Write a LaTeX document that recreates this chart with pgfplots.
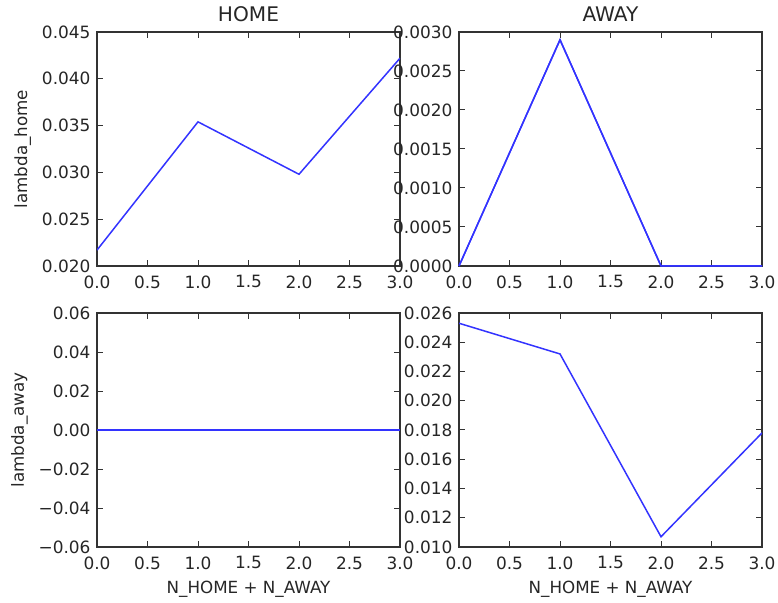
\documentclass[border=0pt]{standalone}
\usepackage{fontspec}
\setmainfont{DejaVu Sans}
\usepackage{pgfplots}
\pgfplotsset{compat=1.18}

% Shared look of the four panels (1 unit = 1bp, tick font 17bp)
\pgfplotsset{
  panel/.style={
    scale only axis, width=303bp, height=234bp,
    anchor=south west,
    xmin=0, xmax=3,
    xtick={0,0.5,1,1.5,2,2.5,3},
    xticklabels={0.0,0.5,1.0,1.5,2.0,2.5,3.0},
    scaled y ticks=false, scaled x ticks=false,
    tick align=inside, tick pos=both,
    major tick length=5.6bp,
    axis line style={line width=1.2bp, black!80},
    tick style={line width=1bp, black!80},
    every tick label/.append style={font=\fontsize{17}{20}\selectfont, text=black!85},
    xticklabel style={yshift=-6bp},
    yticklabel style={xshift=-3bp},
    label style={font=\fontsize{16.8}{20}\selectfont, text=black!85},
    xlabel style={yshift=-5bp},
    ylabel style={yshift=4bp},
    title style={font=\fontsize{20.2}{24}\selectfont, text=black!85, yshift=1bp},
  },
  series/.style={color={rgb,1:red,0.2;green,0.2;blue,1}, line width=1.5bp, no markers},
}

\begin{document}
\begin{tikzpicture}
\path[use as bounding box] (0,0) rectangle (778bp,603bp);

% top left: lambda_home, HOME
\begin{axis}[panel, at={(97bp,337bp)},
  title={HOME}, ylabel={lambda\_home},
  ymin=0.020, ymax=0.045,
  ytick={0.020,0.025,0.030,0.035,0.040,0.045},
  yticklabels={0.020,0.025,0.030,0.035,0.040,0.045}]
\addplot[series] coordinates {(0,0.0217) (1,0.0354) (2,0.0298) (3,0.0422)};
\end{axis}

% top right: lambda_home, AWAY
\begin{axis}[panel, at={(459bp,337bp)},
  title={AWAY}, clip=false,
  ymin=0, ymax=0.003,
  ytick={0,0.0005,0.001,0.0015,0.002,0.0025,0.003},
  yticklabels={0.0000,0.0005,0.0010,0.0015,0.0020,0.0025,0.0030}]
\addplot[series] coordinates {(0,0) (1,0.0029) (2,0) (3,0)};
\end{axis}
% same series again over the frame, so the part lying on the bottom spine shows
\begin{axis}[scale only axis, width=303bp, height=234bp, anchor=south west,
  at={(459bp,337bp)}, hide axis, clip=false,
  xmin=0, xmax=3, ymin=0, ymax=0.003]
\addplot[series] coordinates {(0,0) (1,0.0029) (2,0) (3,0)};
\end{axis}

% bottom left: lambda_away, HOME
\begin{axis}[panel, at={(97bp,56bp)},
  ylabel={lambda\_away}, xlabel={N\_HOME + N\_AWAY},
  ymin=-0.06, ymax=0.06,
  ytick={-0.06,-0.04,-0.02,0,0.02,0.04,0.06},
  yticklabels={−0.06,−0.04,−0.02,0.00,0.02,0.04,0.06}]
\addplot[series] coordinates {(0,0) (1,0) (2,0) (3,0)};
\end{axis}

% bottom right: lambda_away, AWAY
\begin{axis}[panel, at={(459bp,56bp)},
  xlabel={N\_HOME + N\_AWAY},
  ymin=0.010, ymax=0.026,
  ytick={0.010,0.012,0.014,0.016,0.018,0.020,0.022,0.024,0.026},
  yticklabels={0.010,0.012,0.014,0.016,0.018,0.020,0.022,0.024,0.026}]
\addplot[series] coordinates {(0,0.0253) (1,0.0232) (2,0.0107) (3,0.0178)};
\end{axis}
\end{tikzpicture}
\end{document}
